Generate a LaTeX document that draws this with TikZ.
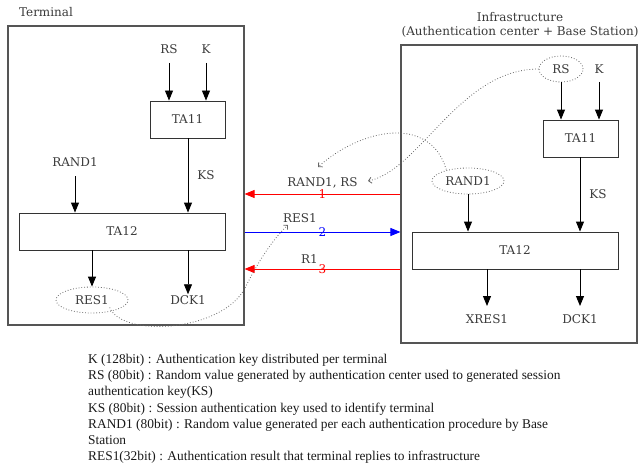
\documentclass[tikz,border=0pt]{standalone}
\usepackage{fontspec}
\setmainfont{Liberation Serif}
\newfontfamily\diafont{DejaVu Serif}
\usetikzlibrary{shapes,arrows.meta,positioning,calc}
\definecolor{txtgray}{HTML}{3A3A3A}
\definecolor{framegray}{HTML}{555555}

\begin{document}
\begin{tikzpicture}[x=1pt, y=-1pt]
  \tikzstyle{frame}=[rectangle, draw=framegray, line width=1.1pt, inner sep=0pt]
  \tikzstyle{block}=[rectangle, draw=black!80, line width=0.9pt, inner sep=0pt, minimum height=37pt, font=\diafont\fontsize{12}{14}\selectfont, text=txtgray]
  \tikzstyle{lbl}=[inner sep=1pt, font=\diafont\fontsize{12}{14}\selectfont, text=txtgray]
  \tikzstyle{oval}=[ellipse, draw=black!60, dotted, thick, inner sep=0pt, minimum height=26pt, font=\diafont\fontsize{12}{14}\selectfont, text=txtgray]
  \tikzstyle{flow}=[-{Triangle[length=10pt,width=8pt]}, line width=0.9pt, black]
  \tikzstyle{msg}=[-{Triangle[length=10pt,width=8pt]}, line width=0.9pt]
  \tikzstyle{hint}=[-{Straight Barb[length=3pt,width=6pt]}, black!60, dotted, thick]
  \useasboundingbox (0,0) rectangle (644,468);

  % Terminal
  \node[lbl] (termtitle) at (46,12) {Terminal};
  \node[frame, minimum width=236pt, minimum height=299pt] (term) at (126,175.5) {};
  \node[lbl] (tRS) at (169,49) {RS};
  \node[lbl] (tK) at (206,49) {K};
  \node[block, minimum width=75pt] (tTA11) at (187.5,119.5) {TA11};
  \node[lbl] (tRAND1) at (75,162) {RAND1};
  \node[block, minimum width=206pt] (tTA12) at (122,231.5) {TA12};
  \node[oval, minimum width=72pt] (tRES1) at (92,300) {RES1};
  \node[lbl] (tDCK1) at (188,300) {DCK1};

  \draw[flow] (tRS.south |- 0,63) -- (tRS.south |- tTA11.north);
  \draw[flow] (tK.south |- 0,63) -- (tK.south |- tTA11.north);
  \draw[flow] (tTA11.south -| 188,0) -- node[lbl, right=8pt] {KS} (tTA12.north -| 188,0);
  \draw[flow] (tRAND1.south |- 0,176) -- (tRAND1.south |- tTA12.north);
  \draw[flow] (tTA12.south -| tRES1.north) -- (tRES1.north);
  \draw[flow] (tTA12.south -| tDCK1.north) -- (tDCK1.north);

  % Infrastructure
  \node[lbl, align=center] (infratitle) at (520,25) {Infrastructure\\(Authentication center + Base Station)};
  \node[frame, minimum width=236pt, minimum height=298pt] (infra) at (519,194) {};
  \node[oval, minimum width=44pt] (iRS) at (561,69) {RS};
  \node[lbl] (iK) at (599,69) {K};
  \node[block, minimum width=75pt] (iTA11) at (580.5,138.5) {TA11};
  \node[oval, minimum width=72pt] (iRAND1) at (468,181) {RAND1};
  \node[block, minimum width=206pt] (iTA12) at (515,250.5) {TA12};
  \node[lbl] (iXRES1) at (487,319) {XRES1};
  \node[lbl] (iDCK1) at (580,319) {DCK1};

  \draw[flow] (iRS.south) -- (iRS.south |- iTA11.north);
  \draw[flow] (iK.south |- 0,82) -- (iK.south |- iTA11.north);
  \draw[flow] (iTA11.south -| 580,0) -- node[lbl, right=8pt] {KS} (iTA12.north -| 580,0);
  \draw[flow] (iRAND1.south) -- (iRAND1.south |- iTA12.north);
  \draw[flow] (iTA12.south -| iXRES1.north) -- (iXRES1.north |- 0,306);
  \draw[flow] (iTA12.south -| iDCK1.north) -- (iDCK1.north |- 0,306);

  % messages between terminal and infrastructure
  \coordinate (m1) at (0,194);
  \coordinate (m2) at (0,232);
  \coordinate (m3) at (0,269);
  \draw[msg, draw=red, fill=red] (infra.west |- m1) -- node[lbl, text=red, inner sep=0pt] {1} node[lbl, above=4pt] {RAND1, RS} (term.east |- m1);
  \draw[msg, draw=blue, fill=blue] (term.east |- m2) -- node[lbl, text=blue, inner sep=0pt] {2} (infra.west |- m2);
  \draw[msg, draw=red, fill=red] (infra.west |- m3) -- node[lbl, text=red, inner sep=0pt] {3} node[lbl, above=4pt, xshift=-13pt] {R1} (term.east |- m3);
  \node[lbl] (res1msg) at (300,218) {RES1};

  % dotted hints
  \coordinate (rsend) at (368,181);
  \coordinate (randend) at (318,167);
  \coordinate (resend) at (288,225);
  \draw[hint] (iRS.west) .. controls (460,69) and (420,170) .. (rsend);
  \draw[hint] (iRAND1.north west) ++(4,-2) .. controls (430,115) and (362,128) .. (randend);
  \draw[hint] (tRES1.south east) ++(-8,-2) .. controls (122,338) and (222,332) .. (245,288)
    .. controls (258,262) and (272,240) .. (resend);

  % legend
  \node[anchor=north west, inner sep=0pt, align=left, text=black!90, font=\fontsize{13.4}{16.2}\selectfont] (legend) at (88,354) {%
    K (128bit) : Authentication key distributed per terminal\\
    RS (80bit) : Random value generated by authentication center used to generated session\\
    authentication key(KS)\\
    KS (80bit) : Session authentication key used to identify terminal\\
    RAND1 (80bit) : Random value generated per each authentication procedure by Base\\
    Station\\
    RES1(32bit) : Authentication result that terminal replies to infrastructure};
\end{tikzpicture}
\end{document}
